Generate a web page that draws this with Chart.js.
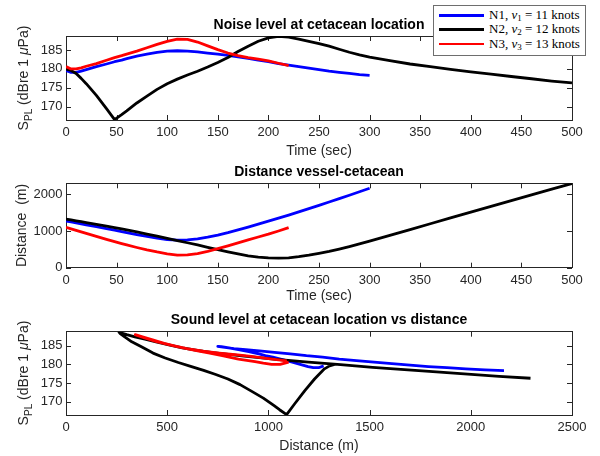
<!DOCTYPE html>
<html>
<head>
<meta charset="utf-8">
<script src="https://cdn.jsdelivr.net/npm/chart.js@4.4.1/dist/chart.umd.min.js"></script>
<style>
    html, body { margin: 0; padding: 0; background: #fff; }
    #fig { position: relative; width: 600px; height: 456px; overflow: hidden; font-family: 'Liberation Sans', Arial, sans-serif; }
    #fig canvas { position: absolute; left: 0; }
    .ylab { position: absolute; font-size: 14px; line-height: 1; color: #262626; white-space: nowrap; transform: translate(-50%, -50%) rotate(-90deg); }
    .ylab sub { font-size: 10px; line-height: 1; vertical-align: -4px; }
    .legend { position: absolute; left: 433px; top: 5px; width: 151px; height: 45px; padding: 2px 0; border: 1px solid #6e6e6e; background: #fff; z-index: 5;
              font-family: 'Liberation Serif', 'DejaVu Serif', serif; font-size: 13px; color: #000; }
    .legend .row { height: 14.3px; line-height: 14.3px; white-space: nowrap; position: relative; }
    .legend .sw { position: absolute; left: 5px; top: 6px; width: 45px; height: 2.8px; }
    .legend .tx { position: absolute; left: 55px; top: 0; }
    .legend sub { font-size: 9px; line-height: 1; vertical-align: -2px; }
</style>
</head>
<body>
<div id="fig">
    <canvas id="cNoise" width="600" height="160" style="top:0"></canvas>
    <canvas id="cDist" width="600" height="145" style="top:160px"></canvas>
    <canvas id="cSpl" width="600" height="151" style="top:305px"></canvas>
    <div class="ylab" style="left:24.5px; top:77.5px">S<sub>PL</sub> (dBre 1 <i>μ</i>Pa)</div>
    <div class="ylab" style="left:24.5px; top:373px">S<sub>PL</sub> (dBre 1 <i>μ</i>Pa)</div>
    <div class="legend" id="legend"></div>
</div>
<script>
// ─── DATA ───
const timeSec = [0, 5, 10, 15, 20, 30, 40, 48, 55, 60, 70, 80, 90, 100, 110, 120, 130, 140, 150, 160, 170, 180, 190, 200,
    210, 220, 230, 240, 250, 260, 270, 280, 290, 300, 320, 340, 360, 380, 400, 420, 440, 460, 480, 500];

// sound level at the cetacean, dB re 1 uPa (N1 runs to 300 s, N3 to 220 s)
const splN1 = [179.6, 179.1, 179.1, 179.4, 179.8, 180.6, 181.3, 181.9, 182.3, 182.7, 183.4, 183.9, 184.4, 184.7, 184.8, 184.7,
    184.5, 184.2, 183.9, 183.6, 183.2, 182.8, 182.3, 181.9, 181.4, 181.0, 180.6, 180.2, 179.8, 179.4, 179.1, 178.8, 178.5, 178.3];
const splN2 = [180.0, 179.6, 178.8, 177.5, 176.1, 173.0, 169.5, 166.6, 167.9, 168.9, 171.0, 172.8, 174.6, 176.1, 177.3, 178.4,
    179.4, 180.5, 181.7, 183.0, 184.6, 186.0, 187.3, 188.2, 188.6, 188.4, 187.9, 187.3, 186.7, 186.0, 185.2, 184.4, 183.7, 183.1,
    182.2, 181.3, 180.6, 179.9, 179.2, 178.6, 178.0, 177.4, 176.8, 176.3];
const splN3 = [180.6, 180.0, 180.0, 180.3, 180.7, 181.4, 182.3, 183.0, 183.5, 183.9, 184.7, 185.6, 186.5, 187.3, 187.9, 187.8,
    187.1, 186.1, 185.1, 184.2, 183.5, 183.0, 182.6, 182.1, 181.5, 180.9];

// vessel-cetacean distance, m
const distN1 = [1273, 1248, 1222, 1196, 1170, 1118, 1065, 1022, 985, 958, 903, 852, 805, 768, 750, 758, 785, 830, 888, 955,
    1030, 1108, 1188, 1268, 1350, 1435, 1522, 1610, 1700, 1790, 1882, 1975, 2070, 2164];
const distN2 = [1327, 1302, 1277, 1253, 1228, 1180, 1130, 1090, 1055, 1030, 975, 918, 860, 800, 740, 680, 620, 555, 490, 430,
    375, 325, 290, 268, 262, 270, 300, 340, 390, 445, 508, 575, 648, 725, 880, 1040, 1198, 1356, 1515, 1672, 1830, 1985, 2140, 2295];
const distN3 = [1100, 1058, 1016, 975, 934, 852, 772, 710, 657, 620, 550, 485, 428, 378, 342, 348, 385, 443, 518, 597, 677, 757,
    836, 914, 1000, 1091];

const seriesNames = ['N1', 'N2', 'N3'];
const speedKnots = [11, 12, 13];

const timeTicks = [0, 50, 100, 150, 200, 250, 300, 350, 400, 450, 500];
const splTicks = [170, 175, 180, 185];
const distTicks = [0, 1000, 2000];
const rangeTicks = [0, 500, 1000, 1500, 2000, 2500];

// ─── STYLE ───
const LINE_COLORS = ['#0000ff', '#000000', '#ff0000'];
const AXIS = '#262626';
const FAMILY = "'Liberation Sans', Arial, sans-serif";
const TICK_LEN = 5;

Chart.defaults.font.family = FAMILY;

function pairs(xs, ys) {
    return ys.map((y, i) => ({ x: xs[i], y: y }));
}

function lineSet(i, points) {
    return {
        label: seriesNames[i], data: points, showLine: true, fill: false,
        borderColor: LINE_COLORS[i], borderWidth: 2.8, pointRadius: 0, tension: 0,
        borderJoinStyle: 'round', order: 2 - i
    };
}

function fixTicks(list) {
    return scale => { scale.ticks = list.map(v => ({ value: v })); };
}

// ─── INWARD TICKS (MATLAB box style, all four sides) ───
const inwardTicks = {
    id: 'inwardTicks',
    beforeDatasetsDraw(chart) {
        const { ctx, chartArea: a, scales } = chart;
        ctx.save();
        ctx.strokeStyle = AXIS;
        ctx.lineWidth = 1;
        ctx.beginPath();
        scales.x.ticks.forEach(t => {
            const px = Math.round(scales.x.getPixelForValue(t.value)) + 0.5;
            ctx.moveTo(px, a.bottom); ctx.lineTo(px, a.bottom - TICK_LEN);
            ctx.moveTo(px, a.top); ctx.lineTo(px, a.top + TICK_LEN);
        });
        scales.y.ticks.forEach(t => {
            const py = Math.round(scales.y.getPixelForValue(t.value)) + 0.5;
            ctx.moveTo(a.left, py); ctx.lineTo(a.left + TICK_LEN, py);
            ctx.moveTo(a.right, py); ctx.lineTo(a.right - TICK_LEN, py);
        });
        ctx.stroke();
        ctx.restore();
    }
};

function axis(pos, min, max, list, size, extra) {
    const horiz = pos === 'top' || pos === 'bottom';
    const main = pos === 'bottom' || pos === 'left';
    return Object.assign({
        type: 'linear', position: pos, min: min, max: max,
        afterBuildTicks: fixTicks(list),
        afterFit: s => { if (horiz) s.height = size; else s.width = size; },
        grid: { drawOnChartArea: false, drawTicks: false, tickLength: 0, color: AXIS },
        border: { display: true, color: AXIS, width: 1 },
        ticks: {
            display: main, color: AXIS, font: { size: 13 }, padding: horiz ? 5 : 3.5,
            maxRotation: 0, autoSkip: false, callback: v => String(v)
        }
    }, extra || {});
}

function buildChart(id, c) {
    return new Chart(document.getElementById(id), {
        type: 'scatter',
        data: { datasets: c.datasets },
        plugins: [inwardTicks],
        options: {
            responsive: false, animation: false, events: [],
            layout: { padding: { left: 0, right: 28, top: 0, bottom: c.padBottom || 0 }, autoPadding: false },
            plugins: {
                legend: { display: false }, tooltip: { enabled: false },
                title: {
                    display: true, text: c.title, fullSize: false, color: '#000',
                    font: { size: 14, weight: 'bold' }, padding: { top: c.titleTop, bottom: c.titleBottom }
                }
            },
            scales: {
                x: axis('bottom', c.x[0], c.x[1], c.xTicks, c.xAxisH, {
                    title: { display: true, text: c.xTitle, color: AXIS, font: { size: 14 }, padding: { top: 0, bottom: 0 } }
                }),
                xTop: axis('top', c.x[0], c.x[1], c.xTicks, 0),
                y: axis('left', c.y[0], c.y[1], c.yTicks, 66, c.yTitle ? {
                    title: { display: true, text: c.yTitle, color: AXIS, font: { size: 14 }, padding: { top: 13.6, bottom: 0 } }
                } : {}),
                yRight: axis('right', c.y[0], c.y[1], c.yTicks, 0)
            }
        }
    });
}

// ─── CHARTS ───
const splByShip = [splN1, splN2, splN3];
const distByShip = [distN1, distN2, distN3];

buildChart('cNoise', {
    title: 'Noise level at cetacean location', titleTop: 16.6, titleBottom: 2.6,
    datasets: splByShip.map((s, i) => lineSet(i, pairs(timeSec, s))),
    x: [0, 500], xTicks: timeTicks, xTitle: 'Time (sec)', xAxisH: 40,
    y: [166.5, 188.7], yTicks: splTicks
});

buildChart('cDist', {
    title: 'Distance vessel-cetacean', titleTop: 4.1, titleBottom: 2.4,
    datasets: distByShip.map((d, i) => lineSet(i, pairs(timeSec, d))),
    x: [0, 500], xTicks: timeTicks, xTitle: 'Time (sec)', xAxisH: 37.3,
    y: [0, 2300], yTicks: distTicks, yTitle: 'Distance  (m)'
});

buildChart('cSpl', {
    title: 'Sound level at cetacean location vs distance', titleTop: 6.6, titleBottom: 3.3,
    datasets: splByShip.map((s, i) => lineSet(i, pairs(distByShip[i], s))),
    x: [0, 2500], xTicks: rangeTicks, xTitle: 'Distance (m)', xAxisH: 40, padBottom: 1,
    y: [166.5, 188.7], yTicks: splTicks
});

// ─── LEGEND ───
document.getElementById('legend').innerHTML = seriesNames.map((n, i) =>
    `<div class="row"><span class="sw" style="background:${LINE_COLORS[i]}"></span>` +
    `<span class="tx">${n}, <i>v</i><sub>${i + 1}</sub> = ${speedKnots[i]} knots</span></div>`
).join('');
</script>
</body>
</html>
